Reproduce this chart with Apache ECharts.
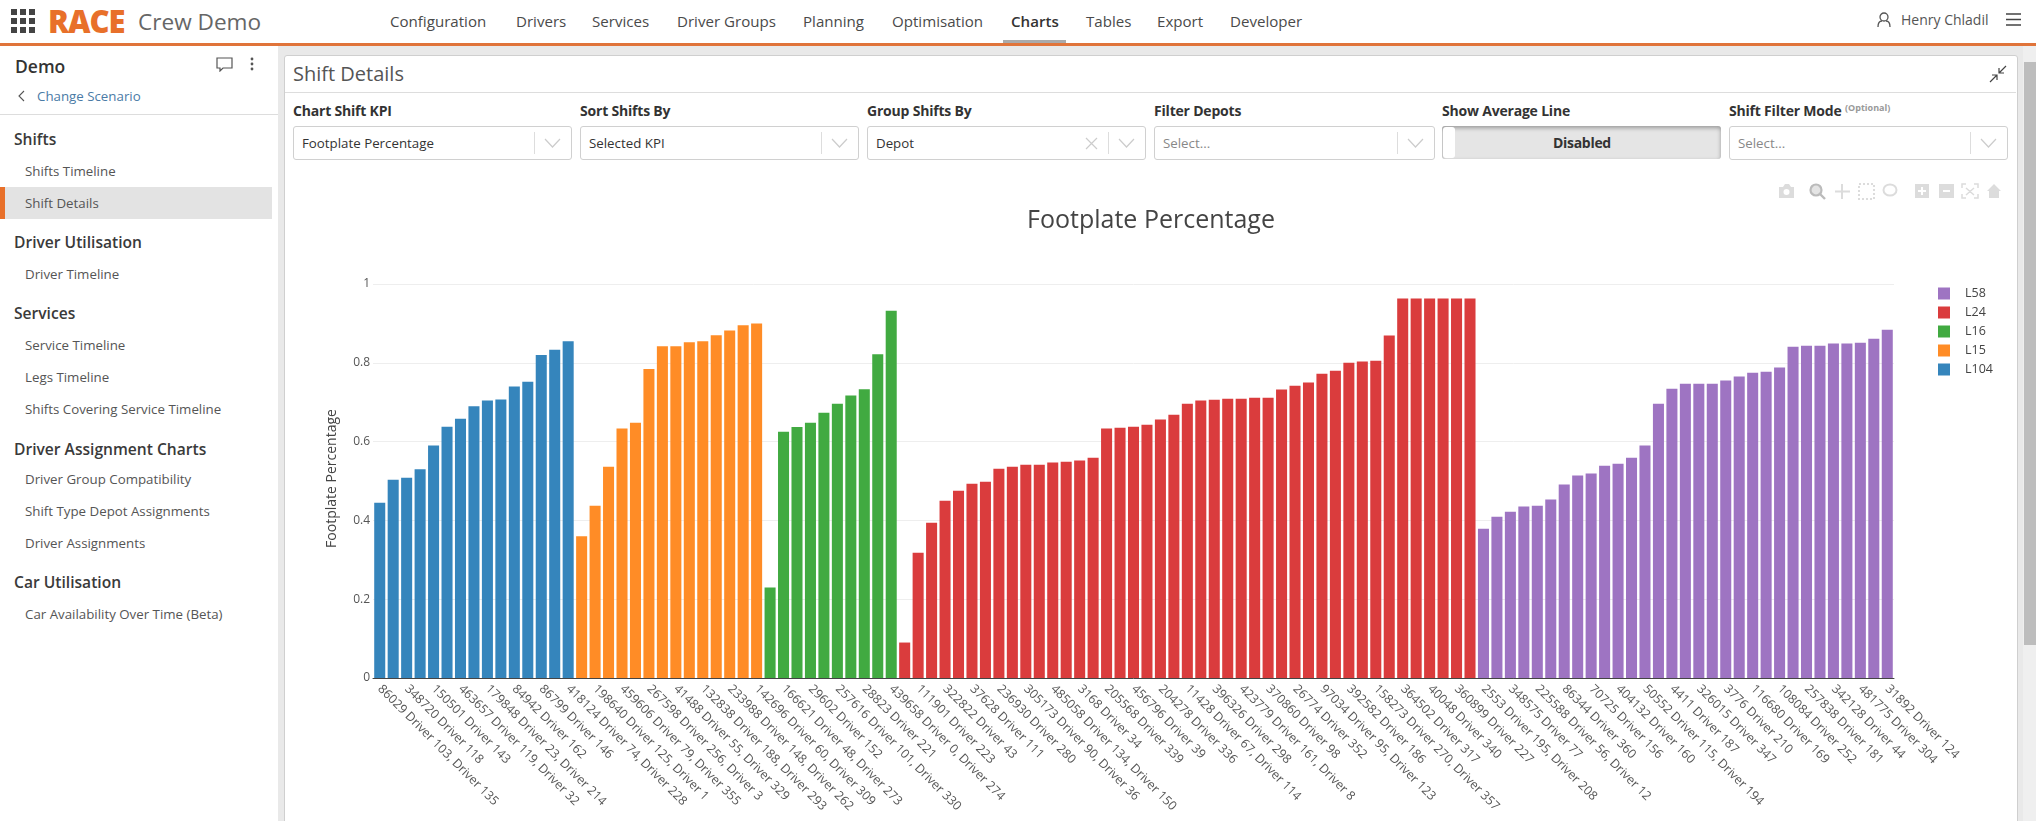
<!DOCTYPE html>
<html>
<head>
<meta charset="utf-8">
<title>Shift Details</title>
<script src="https://cdn.jsdelivr.net/npm/echarts@6/dist/echarts.min.js"></script>
<style>
html,body{margin:0;padding:0;width:2036px;height:821px;overflow:hidden;background:#e9e9e9;font-family:"Open Sans",sans-serif;color:#444}
div,span{position:absolute;white-space:nowrap}
svg{position:absolute}
#top{left:0;top:0;width:2036px;height:43px;background:#fff;border-bottom:3px solid #e0743a}
.nav{top:9px;font-size:15.1px;line-height:24px;color:#4a4a4a}
#side{left:0;top:46px;width:278px;height:775px;background:#fff}
.h{left:14px;font-size:15.6px;line-height:22px;font-weight:600;color:#3a3a3a}
.i{left:25px;font-size:13.3px;line-height:20px;color:#555}
#panel{left:284px;top:55px;width:1732px;height:770px;background:#fff;border:1px solid #cfcfcf;border-radius:3px}
.lb{top:101px;font-size:14px;line-height:19px;font-weight:700;color:#333;letter-spacing:-.2px}
.sel{top:126px;height:32px;background:#fff;border:1px solid #d0d0d0;border-radius:3px}
.v{left:8px;top:6px;font-size:13.3px;line-height:20px;color:#333}
.ph{color:#888}
.sep{top:5px;width:1px;height:22px;background:#ddd}
#chart{left:285px;top:160px;width:1731px;height:661px}
</style>
</head>
<body>
<div id="top"></div>
<svg style="left:11px;top:9px" width="24" height="24" fill="#444">
<rect x="0" y="0" width="6" height="6"/><rect x="9" y="0" width="6" height="6"/><rect x="18" y="0" width="6" height="6"/>
<rect x="0" y="9" width="6" height="6"/><rect x="9" y="9" width="6" height="6"/><rect x="18" y="9" width="6" height="6"/>
<rect x="0" y="18" width="6" height="6"/><rect x="9" y="18" width="6" height="6"/><rect x="18" y="18" width="6" height="6"/>
</svg>
<span style="left:48px;top:1px;font-size:31px;line-height:40px;font-weight:800;color:#e8702a;letter-spacing:-1px">RACE</span>
<span style="left:138px;top:4px;font-size:22.6px;line-height:36px;color:#666">Crew Demo</span>
<span class="nav" style="left:390px">Configuration</span>
<span class="nav" style="left:516px">Drivers</span>
<span class="nav" style="left:592px">Services</span>
<span class="nav" style="left:677px">Driver Groups</span>
<span class="nav" style="left:803px">Planning</span>
<span class="nav" style="left:892px">Optimisation</span>
<span class="nav" style="left:1011px;font-weight:600;color:#333">Charts</span>
<span class="nav" style="left:1086px">Tables</span>
<span class="nav" style="left:1157px">Export</span>
<span class="nav" style="left:1230px">Developer</span>
<div style="left:1003px;top:40px;width:63px;height:3px;background:#aaa"></div>
<svg style="left:1877px;top:12px" width="14" height="16" fill="none" stroke="#555" stroke-width="1.3"><circle cx="7" cy="5" r="4"/><path d="M1 15c0-4 2-6 4-6M13 15c0-4-2-6-4-6"/></svg>
<span style="left:1901px;top:10px;font-size:14px;line-height:20px;color:#555">Henry Chladil</span>
<svg style="left:2006px;top:13px" width="15" height="13" stroke="#444" stroke-width="1.3"><path d="M0 1h15M0 6.5h15M0 12h15"/></svg>

<div id="side"></div>
<span style="left:15px;top:54px;font-size:17.5px;line-height:24px;font-weight:600;color:#333">Demo</span>
<svg style="left:216px;top:57px" width="17" height="15" fill="none" stroke="#555" stroke-width="1.2"><path d="M1 1h15v10H7l-3 3v-3H1z"/></svg>
<svg style="left:250px;top:57px" width="4" height="14" fill="#555"><circle cx="2" cy="2" r="1.4"/><circle cx="2" cy="7" r="1.4"/><circle cx="2" cy="12" r="1.4"/></svg>
<svg style="left:18px;top:90px" width="7" height="12" fill="none" stroke="#555" stroke-width="1.1"><path d="M6 1L1 6l5 5"/></svg>
<span style="left:37px;top:86px;font-size:13.3px;line-height:20px;color:#4a7ba6">Change Scenario</span>
<div style="left:0;top:114px;width:278px;height:1px;background:#ddd"></div>
<div style="left:5px;top:187px;width:267px;height:32px;background:#e3e3e3"></div>
<div style="left:0;top:187px;width:5px;height:32px;background:#e8702a"></div>
<span class="h" style="top:128px">Shifts</span>
<span class="i" style="top:161px">Shifts Timeline</span>
<span class="i" style="top:193px">Shift Details</span>
<span class="h" style="top:231px">Driver Utilisation</span>
<span class="i" style="top:264px">Driver Timeline</span>
<span class="h" style="top:302px">Services</span>
<span class="i" style="top:335px">Service Timeline</span>
<span class="i" style="top:367px">Legs Timeline</span>
<span class="i" style="top:399px">Shifts Covering Service Timeline</span>
<span class="h" style="top:438px">Driver Assignment Charts</span>
<span class="i" style="top:469px">Driver Group Compatibility</span>
<span class="i" style="top:501px">Shift Type Depot Assignments</span>
<span class="i" style="top:533px">Driver Assignments</span>
<span class="h" style="top:571px">Car Utilisation</span>
<span class="i" style="top:604px">Car Availability Over Time (Beta)</span>

<div id="panel"></div>
<span style="left:293px;top:57px;font-size:20px;line-height:34px;color:#555">Shift Details</span>
<div style="left:285px;top:92px;width:1731px;height:1px;background:#ddd"></div>
<svg style="left:1989px;top:65px" width="18" height="18" fill="none" stroke="#444" stroke-width="1.2"><path d="M17 1l-7 7M10 3v5h5M1 17l7-7M8 15v-5H3"/></svg>

<span class="lb" style="left:293px">Chart Shift KPI</span>
<span class="lb" style="left:580px">Sort Shifts By</span>
<span class="lb" style="left:867px">Group Shifts By</span>
<span class="lb" style="left:1154px">Filter Depots</span>
<span class="lb" style="left:1442px">Show Average Line</span>
<span class="lb" style="left:1729px">Shift Filter Mode</span>
<span style="left:1845px;top:101px;font-size:9px;line-height:13px;font-weight:700;color:#999">(Optional)</span>

<div class="sel" style="left:293px;width:277px"><span class="v">Footplate Percentage</span><div class="sep" style="left:240px"></div><svg style="left:250px;top:11px" width="17" height="11" fill="none" stroke="#ccc" stroke-width="1.2"><path d="M1 1l7.5 8L16 1"/></svg></div>
<div class="sel" style="left:580px;width:277px"><span class="v">Selected KPI</span><div class="sep" style="left:240px"></div><svg style="left:250px;top:11px" width="17" height="11" fill="none" stroke="#ccc" stroke-width="1.2"><path d="M1 1l7.5 8L16 1"/></svg></div>
<div class="sel" style="left:867px;width:277px"><span class="v">Depot</span><svg style="left:217px;top:10px" width="13" height="13" fill="none" stroke="#ccc" stroke-width="1.2"><path d="M1 1l11 11M12 1L1 12"/></svg><div class="sep" style="left:240px"></div><svg style="left:250px;top:11px" width="17" height="11" fill="none" stroke="#ccc" stroke-width="1.2"><path d="M1 1l7.5 8L16 1"/></svg></div>
<div class="sel" style="left:1154px;width:279px"><span class="v ph">Select...</span><div class="sep" style="left:242px"></div><svg style="left:252px;top:11px" width="17" height="11" fill="none" stroke="#ccc" stroke-width="1.2"><path d="M1 1l7.5 8L16 1"/></svg></div>
<div style="left:1442px;top:126px;width:279px;height:33px;background:#e5e5e5;border-radius:3px;box-shadow:inset 0 2px 4px #999"></div>
<div style="left:1443px;top:127px;width:12px;height:31px;background:#fff;border-radius:3px"></div>
<span style="left:1553px;top:133px;font-size:14px;line-height:20px;font-weight:700;color:#333;letter-spacing:-.3px">Disabled</span>
<div class="sel" style="left:1729px;width:277px"><span class="v ph">Select...</span><div class="sep" style="left:240px"></div><svg style="left:250px;top:11px" width="17" height="11" fill="none" stroke="#ccc" stroke-width="1.2"><path d="M1 1l7.5 8L16 1"/></svg></div>

<div id="chart"></div>

<!-- plotly style modebar -->
<svg style="left:1778px;top:183px;z-index:5" width="224" height="17" fill="#dcdcdc">
<path d="M1 4h4l2-3h4l2 3h3v11H1z"/><circle cx="8.5" cy="9" r="3" fill="#fff"/>
<circle cx="38" cy="7" r="5.500" fill="#e4e4e4" stroke="#bbb" stroke-width="2.2"/><path d="M42 11l5 5" stroke="#bbb" stroke-width="2.4"/>
<path d="M64 1v15M57 8.500h15" stroke="#dcdcdc" stroke-width="2"/>
<rect x="81" y="1" width="15" height="15" fill="none" stroke="#dcdcdc" stroke-width="2" stroke-dasharray="2 2"/>
<ellipse cx="112" cy="7" rx="6.500" ry="5.500" fill="none" stroke="#dcdcdc" stroke-width="2"/>
<rect x="137" y="1" width="14" height="14"/><path d="M144 4v8M140 8h8" stroke="#fff" stroke-width="2"/>
<rect x="161" y="1" width="15" height="14"/><path d="M165 8h7" stroke="#fff" stroke-width="2"/>
<path d="M184 5V1h4M196 1h4v4M200 11v4h-4M188 15h-4v-4M188 5l8 7M196 5l-8 7" fill="none" stroke="#dcdcdc" stroke-width="1.5"/>
<path d="M209 8l7-7 7 7h-2v7h-10V8z"/>
</svg>

<div style="left:2023px;top:46px;width:13px;height:775px;background:#efefef"></div>
<div style="left:2024px;top:62px;width:12px;height:583px;background:#bdbdbd"></div>

<script>
// every second shift label is what the axis shows, the ones between are not readable
const tickLabels = [
  '86029 Driver 103, Driver 135','348720 Driver 118','150501 Driver 143','463657 Driver 119, Driver 32',
  '179848 Driver 23, Driver 214','84942 Driver 162','86799 Driver 146','418124 Driver 74, Driver 228',
  '198640 Driver 125, Driver 1','459606 Driver 79, Driver 355','267598 Driver 256, Driver 3','41488 Driver 55, Driver 329',
  '132838 Driver 188, Driver 293','233988 Driver 148, Driver 262','142696 Driver 60, Driver 309','166621 Driver 48, Driver 273',
  '29602 Driver 152','257616 Driver 101, Driver 330','28823 Driver 221','439658 Driver 0, Driver 274',
  '111901 Driver 223','322822 Driver 43','37628 Driver 111','236930 Driver 280',
  '305173 Driver 90, Driver 36','485058 Driver 134, Driver 150','3168 Driver 34','205568 Driver 339',
  '456796 Driver 39','204278 Driver 336','11428 Driver 67, Driver 114','396326 Driver 298',
  '423779 Driver 161, Driver 8','370860 Driver 98','26774 Driver 352','97034 Driver 95, Driver 123',
  '392582 Driver 186','158273 Driver 270, Driver 357','364502 Driver 317','40048 Driver 340',
  '360899 Driver 227','2553 Driver 195, Driver 208','348575 Driver 77','225588 Driver 56, Driver 12',
  '86344 Driver 360','70725 Driver 156','404132 Driver 160','50552 Driver 115, Driver 194',
  '4411 Driver 187','326015 Driver 347','3776 Driver 210','116680 Driver 169',
  '108084 Driver 252','257838 Driver 181','342128 Driver 44','481775 Driver 304','31892 Driver 124'
];

const l104 = [0.445,0.503,0.508,0.53,0.59,0.638,0.658,0.69,0.704,0.707,0.74,0.752,0.82,0.833,0.855];
const l15 = [0.36,0.437,0.536,0.633,0.648,0.784,0.842,0.842,0.852,0.855,0.87,0.882,0.895,0.9];
const l16 = [0.23,0.625,0.637,0.648,0.673,0.696,0.717,0.733,0.822,0.932];
const l24 = [0.09,0.318,0.394,0.45,0.475,0.493,0.498,0.531,0.536,0.541,0.541,0.547,0.549,0.552,0.559,
  0.633,0.635,0.638,0.643,0.656,0.668,0.696,0.704,0.706,0.709,0.709,0.711,0.711,0.732,0.742,0.75,
  0.772,0.78,0.8,0.803,0.805,0.869,0.963,0.963,0.963,0.963,0.963,0.963];
const l58 = [0.379,0.409,0.422,0.435,0.437,0.453,0.491,0.514,0.519,0.539,0.544,0.559,0.59,0.696,0.734,
  0.747,0.747,0.747,0.755,0.765,0.775,0.777,0.788,0.841,0.843,0.843,0.849,0.849,0.851,0.861,0.884];

const categories = [];
tickLabels.forEach((t,i)=>{
  categories.push(t);
  if(i<tickLabels.length-1) categories.push('');
});

// series sit side by side on one category axis, so pad each one out to its own slots
const groups = [
  {name:'L104',values:l104,color:'#3585bc'},
  {name:'L15',values:l15,color:'#ff8c26'},
  {name:'L16',values:l16,color:'#41aa41'},
  {name:'L24',values:l24,color:'#da3c3d'},
  {name:'L58',values:l58,color:'#9e74c2'}
];
let offset = 0;
const series = groups.map(g=>{
  const data = new Array(offset).fill('-').concat(g.values);
  offset += g.values.length;
  return {
    name:g.name,
    type:'bar',
    stack:'shifts',
    barWidth:'82%',
    data:data,
    itemStyle:{color:g.color}
  };
});

const myChart = echarts.init(document.getElementById('chart'));
myChart.setOption({
  animation:false,
  textStyle:{fontFamily:'"Open Sans",sans-serif'},
  title:{
    text:'Footplate Percentage',
    left:861,
    top:43,
    textAlign:'center',
    textStyle:{fontSize:25,fontWeight:'normal',color:'#444',fontFamily:'"Open Sans",sans-serif'}
  },
  legend:{
    data:['L58','L24','L16','L15','L104'],
    orient:'vertical',
    left:1648,
    top:122,
    icon:'rect',
    itemWidth:12,
    itemHeight:12,
    itemGap:6,
    selectedMode:false,
    textStyle:{fontSize:12.5,color:'#444',padding:[0,0,0,10],fontFamily:'"Open Sans",sans-serif'}
  },
  grid:{left:88,top:124,width:1521,height:394},
  xAxis:{
    type:'category',
    data:categories,
    axisTick:{show:false},
    axisLine:{lineStyle:{color:'#444',width:1}},
    axisLabel:{
      interval:1,
      rotate:-45,
      margin:9,
      fontSize:12.4,
      color:'#555',
      fontFamily:'"Open Sans",sans-serif'
    }
  },
  yAxis:{
    type:'value',
    min:0,
    max:1,
    interval:0.2,
    name:'Footplate Percentage',
    nameLocation:'middle',
    nameGap:34,
    nameTextStyle:{fontSize:14,color:'#444',padding:[0,0,0,5],fontFamily:'"Open Sans",sans-serif'},
    axisLine:{show:false},
    axisTick:{show:false},
    axisLabel:{fontSize:12,color:'#555',margin:3,fontFamily:'"Open Sans",sans-serif'},
    splitLine:{lineStyle:{color:'#eee',width:1}}
  },
  series:series
});
</script>
</body>
</html>
